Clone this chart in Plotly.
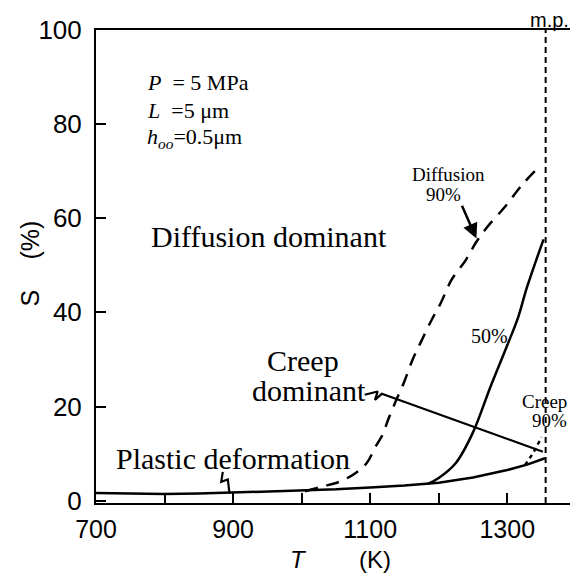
import plotly.graph_objects as go

# ---------------- data ----------------
T_plastic = [700, 750, 800, 850, 900, 950, 1000, 1050, 1100, 1150, 1200, 1250, 1300, 1330, 1355]
S_plastic = [1.6, 1.5, 1.4, 1.5, 1.7, 1.9, 2.1, 2.4, 2.8, 3.2, 3.8, 4.9, 6.5, 7.7, 9.0]

T_50 = [1185, 1200, 1225, 1250, 1275, 1300, 1316, 1328, 1342, 1353]
S_50 = [3.6, 4.8, 8.0, 14.5, 24.0, 33.0, 39.0, 45.0, 51.0, 55.5]

T_diff90 = [1005, 1030, 1055, 1080, 1095, 1108, 1118, 1127, 1137, 1149, 1162, 1175,
            1190, 1203, 1219, 1239, 1255, 1270, 1297, 1321, 1347]
S_diff90 = [2.0, 3.0, 4.0, 6.0, 8.0, 11.5, 14.0, 17.5, 21.0, 25.0, 30.0, 34.0,
            38.5, 42.0, 47.0, 51.0, 55.0, 58.0, 62.5, 67.0, 71.0]

T_creep90 = [1326, 1335, 1343, 1350]
S_creep90 = [7.6, 9.5, 11.5, 13.5]

MELTING_POINT = 1356

# leader lines (annotation pointers)
T_creep_leader = [1092, 1111, 1107, 1117, 1352]
S_creep_leader = [22.5, 23.2, 21.4, 22.7, 10.4]
T_plastic_leader = [885, 882.7, 892.3, 894.8]
S_plastic_leader = [6.1, 4.0, 4.5, 1.5]

x_tickvals = [700, 800, 900, 1000, 1100, 1200, 1300]
x_ticktext = ["700", "", "900", "", "1100", "", "1300"]
y_tickvals = [0, 20, 40, 60, 80, 100]

SERIF = "Liberation Serif"
SANS = "Liberation Sans"

fig = go.Figure()

fig.add_trace(go.Scatter(x=T_plastic, y=S_plastic, mode="lines",
                         line=dict(color="black", width=2.5), showlegend=False))
fig.add_trace(go.Scatter(x=T_50, y=S_50, mode="lines", line_shape="spline",
                         line=dict(color="black", width=2.5), showlegend=False))
fig.add_trace(go.Scatter(x=T_diff90, y=S_diff90, mode="lines", line_shape="spline",
                         line=dict(color="black", width=2.5, dash="13px,9px"), showlegend=False))
fig.add_trace(go.Scatter(x=T_creep90, y=S_creep90, mode="lines",
                         line=dict(color="black", width=2.5, dash="4px,4px"), showlegend=False))
fig.add_trace(go.Scatter(x=T_creep_leader, y=S_creep_leader, mode="lines",
                         line=dict(color="black", width=2.2), showlegend=False))
fig.add_trace(go.Scatter(x=T_plastic_leader, y=S_plastic_leader, mode="lines",
                         line=dict(color="black", width=2.2), showlegend=False))

fig.add_vline(x=MELTING_POINT, line=dict(color="black", width=2, dash="6px,4px"))

ann = []
def txt(x, y, text, size, font=SERIF, xanchor="center", **kw):
    ann.append(dict(x=x, y=y, xref="x", yref="y", text=text, showarrow=False,
                    xanchor=xanchor, yanchor="middle",
                    font=dict(family=font, size=size, color="black"), **kw))

txt(771, 88.8, "<i>P</i>  = 5 MPa", 22, xanchor="left")
txt(771, 83.0, "<i>L</i>  =5 μm", 22, xanchor="left")
txt(771, 77.1, "<i>h</i><sub><i>oo</i></sub>=0.5μm", 22, xanchor="left")

txt(953, 56.1, "Diffusion dominant", 30)
txt(1002, 29.7, "Creep", 30)
txt(1011, 23.3, "dominant", 30)
txt(900, 8.9, "Plastic deformation", 30)
txt(1274, 35.0, "50%", 20)
txt(1215, 69.3, "Diffusion", 19)
txt(1207, 65.0, "90%", 19)
txt(1355, 21.0, "Creep", 19)
txt(1361, 17.0, "90%", 19)

# arrow for Diffusion 90%
ann.append(dict(x=1255, y=55.7, ax=1233, ay=63, xref="x", yref="y", axref="x", ayref="y",
                text="", showarrow=True, arrowhead=2, arrowsize=1.2, arrowwidth=2.5,
                arrowcolor="black"))

def paper_txt(x, y, text, size, angle=0):
    ann.append(dict(x=x, y=y, xref="paper", yref="paper", text=text, textangle=angle,
                    xanchor="center", yanchor="middle", showarrow=False,
                    font=dict(family=SANS, size=size, color="black")))

# axis titles
paper_txt(0.4256, -0.119, "<i>T</i>", 24)
paper_txt(0.587, -0.119, "(K)", 24)
paper_txt(-0.138, 0.4334, "S", 25, -90)
paper_txt(-0.138, 0.556, "(%)", 25, -90)
paper_txt(0.954, 1.021, "m.p.", 20)

# the page body adds an 8px offset; the figure is sized to compensate
fig.update_layout(
    width=570, height=568,
    margin=dict(l=88, r=5, t=22, b=73),
    paper_bgcolor="white", plot_bgcolor="white",
    annotations=ann,
    xaxis=dict(range=[700, 1393], tickvals=x_tickvals, ticktext=x_ticktext,
               ticks="inside", ticklen=10, tickwidth=1.5, tickcolor="black",
               showline=True, linecolor="black", linewidth=2, mirror=True,
               showgrid=False, zeroline=False, ticklabelstandoff=3,
               tickfont=dict(family=SANS, size=25, color="black")),
    yaxis=dict(range=[-0.5, 100], tickvals=y_tickvals,
               ticks="inside", ticklen=10, tickwidth=1.5, tickcolor="black",
               showline=True, linecolor="black", linewidth=2, mirror=True,
               showgrid=False, zeroline=False, ticklabelstandoff=7,
               tickfont=dict(family=SANS, size=26, color="black")),
)

fig.write_html("out.html")
